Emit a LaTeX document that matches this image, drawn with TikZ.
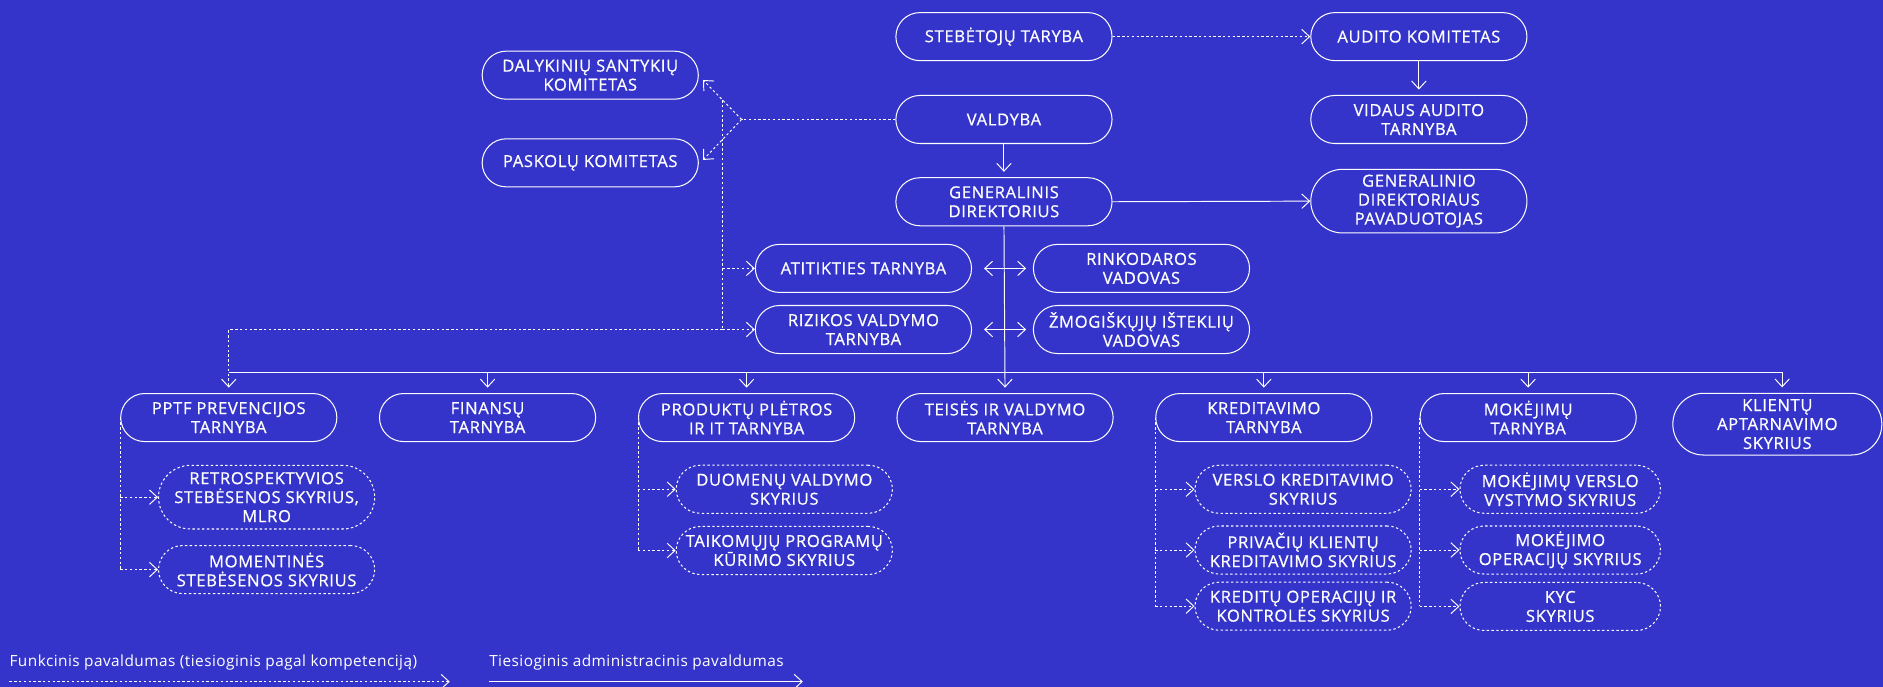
\documentclass[tikz,border=0pt]{standalone}
\usepackage{fontspec}
\setmainfont{Open Sans}
\newfontfamily\bxfont{Open Sans}[FakeBold=0.6,LetterSpace=4]
\newfontfamily\lgfont{Open Sans}[LetterSpace=3]
\usetikzlibrary{arrows.meta,calc}
\definecolor{bg}{HTML}{3434CA}
\begin{document}
\begin{tikzpicture}[x=1pt,y=-1pt,
  >={Straight Barb[length=6.5pt,width=12pt]},
  every node/.style={text=white, font=\bxfont\fontsize{13.8}{15.8}\selectfont},
  box/.style={draw=white, line width=0.85pt, rounded corners=20pt, minimum width=180pt, minimum height=40pt, inner sep=0pt, align=center},
  tall/.style={rounded corners=26.5pt, minimum height=53pt},
  sub/.style={box, dash pattern=on 2pt off 2pt},
  fl/.style={draw=white, line width=0.8pt, dash pattern=on 2pt off 2pt},
  sl/.style={draw=white, line width=0.8pt},
  lg/.style={anchor=west, inner sep=0pt, font=\lgfont\fontsize{12.8}{15}\selectfont}]
\fill[bg] (0,0) rectangle (1568,572);
\useasboundingbox (0,0) rectangle (1568,572);

% top levels
\node[box] (steb) at (836,30.5) {STEBĖTOJŲ TARYBA};
\node[box] (aud) at (1181.5,30.5) {AUDITO KOMITETAS};
\node[box] (vid) at (1181.5,99.5) {VIDAUS AUDITO\\TARNYBA};
\node[box] (daly) at (491.5,62.6) {DALYKINIŲ SANTYKIŲ\\KOMITETAS};
\node[box] (pask) at (491.5,135.6) {PASKOLŲ KOMITETAS};
\node[box] (vald) at (836,99.5) {VALDYBA};
\node[box] (gen) at (836,168) {GENERALINIS\\DIREKTORIUS};
\node[box,tall] (pav) at (1181.5,167.5) {GENERALINIO\\DIREKTORIAUS\\PAVADUOTOJAS};
\node[box] (atit) at (719,223.5) {ATITIKTIES TARNYBA};
\node[box] (riz) at (719,274.4) {RIZIKOS VALDYMO\\TARNYBA};
\node[box] (rink) at (950.5,223.5) {RINKODAROS\\VADOVAS};
\node[box] (zmog) at (950.5,274.4) {ŽMOGIŠKŲJŲ IŠTEKLIŲ\\VADOVAS};

% second row
\node[box] (pptf) at (190.5,347.7) {PPTF PREVENCIJOS\\TARNYBA};
\node[box] (fin) at (406,347.7) {FINANSŲ\\TARNYBA};
\node[box] (prod) at (621.7,347.7) {PRODUKTŲ PLĖTROS\\IR IT TARNYBA};
\node[box] (teis) at (836.9,347.7) {TEISĖS IR VALDYMO\\TARNYBA};
\node[box] (kred) at (1052.4,347.7) {KREDITAVIMO\\TARNYBA};
\node[box] (mok) at (1272.5,347.7) {MOKĖJIMŲ\\TARNYBA};
\node[box,minimum width=174pt,rounded corners=25.5pt,minimum height=51.4pt] (kli) at (1480,353.2) {KLIENTŲ\\APTARNAVIMO\\SKYRIUS};

% sub units
\node[sub,tall] (retro) at (222,414) {RETROSPEKTYVIOS\\STEBĖSENOS SKYRIUS,\\MLRO};
\node[sub] (mom) at (222,474.3) {MOMENTINĖS\\STEBĖSENOS SKYRIUS};
\node[sub] (duom) at (653.1,407.4) {DUOMENŲ VALDYMO\\SKYRIUS};
\node[sub] (taik) at (653.1,458.4) {TAIKOMŲJŲ PROGRAMŲ\\KŪRIMO SKYRIUS};
\node[sub] (vers) at (1085.1,407.4) {VERSLO KREDITAVIMO\\SKYRIUS};
\node[sub] (priv) at (1085.1,458) {PRIVAČIŲ KLIENTŲ\\KREDITAVIMO SKYRIUS};
\node[sub] (kop) at (1085.1,504.8) {KREDITŲ OPERACIJŲ IR\\KONTROLĖS SKYRIUS};
\node[sub,minimum width=167pt] (mv) at (1299.2,407.4) {MOKĖJIMŲ VERSLO\\VYSTYMO SKYRIUS};
\node[sub,minimum width=167pt] (mo) at (1299.2,458) {MOKĖJIMO\\OPERACIJŲ SKYRIUS};
\node[sub,minimum width=167pt] (kyc) at (1299.2,505) {KYC\\SKYRIUS};

% functional (dotted) links
\draw[fl,->] (steb.east) -- (aud.west);
\coordinate (j) at (617.5,99.5);
\coordinate (dalyT) at ([xshift=3.5pt,yshift=-4pt]daly.east);
\coordinate (paskT) at ([xshift=3.5pt,yshift=2.4pt]pask.east);
\draw[fl] (vald.west) -- (j);
\draw[fl,->] (j) -- (dalyT);
\draw[fl,->] (j) -- (paskT);
\coordinate (b) at ($(j)!0.49!(dalyT)$);
\draw[fl] (b) -- (b |- riz.west);
\draw[fl,->] (b |- atit.west) -- (atit.west);
\draw[fl,->] (b |- riz.west) -- (riz.west);
\draw[fl,->] (b |- riz.west) -| ([yshift=4.5pt]pptf.north);

\draw[fl] (pptf.west) -- (pptf.west |- mom.west);
\draw[fl,->] (pptf.west |- retro.west) -- (retro.west);
\draw[fl,->] (pptf.west |- mom.west) -- (mom.west);
\draw[fl] (prod.west) -- (prod.west |- taik.west);
\draw[fl,->] (prod.west |- duom.west) -- (duom.west);
\draw[fl,->] (prod.west |- taik.west) -- (taik.west);
\draw[fl] (kred.west) -- (kred.west |- kop.west);
\draw[fl,->] (kred.west |- vers.west) -- (vers.west);
\draw[fl,->] (kred.west |- priv.west) -- (priv.west);
\draw[fl,->] (kred.west |- kop.west) -- (kop.west);
\draw[fl] (mok.west) -- (mok.west |- kyc.west);
\draw[fl,->] (mok.west |- mv.west) -- (mv.west);
\draw[fl,->] (mok.west |- mo.west) -- (mo.west);
\draw[fl,->] (mok.west |- kyc.west) -- (kyc.west);

% administrative (solid) links
\draw[sl,->] (aud.south) -- ([yshift=4.5pt]vid.north);
\draw[sl,->] (vald.south) -- ([yshift=4.5pt]gen.north);
\draw[sl,->] (gen.east) -- (pav.west);
\draw[sl,->] (gen.south) -- ([yshift=4.5pt]teis.north);
\coordinate (hl) at (0,310);
\draw[sl] (pptf.north |- hl) -- ([xshift=4pt]kli.north |- hl);
\foreach \n in {fin,prod,kred,mok} {
  \draw[sl,->] (\n.north |- hl) -- ([yshift=4.5pt]\n.north);
}
\draw[sl,->] ([xshift=4pt]kli.north |- hl) -- ([xshift=4pt,yshift=4.5pt]kli.north);
\draw[sl,<->] ([xshift=10pt]atit.east) -- ([xshift=-5.6pt]rink.west);
\draw[sl,<->] ([xshift=10pt]riz.east) -- ([xshift=-5.6pt]zmog.west);

% legend
\node[lg] (l1) at (7.8,551.8) {Funkcinis pavaldumas (tiesioginis pagal kompetenciją)};
\coordinate (l1a) at (7.8,567.6);
\coordinate (l1b) at (374.5,567.6);
\draw[fl,->] (l1a) -- (l1b);
\node[lg] (l2) at (407.2,551.8) {Tiesioginis administracinis pavaldumas};
\coordinate (l2a) at (407.2,567.6);
\coordinate (l2b) at (668.5,567.6);
\draw[sl,->] (l2a) -- (l2b);
\end{tikzpicture}
\end{document}
